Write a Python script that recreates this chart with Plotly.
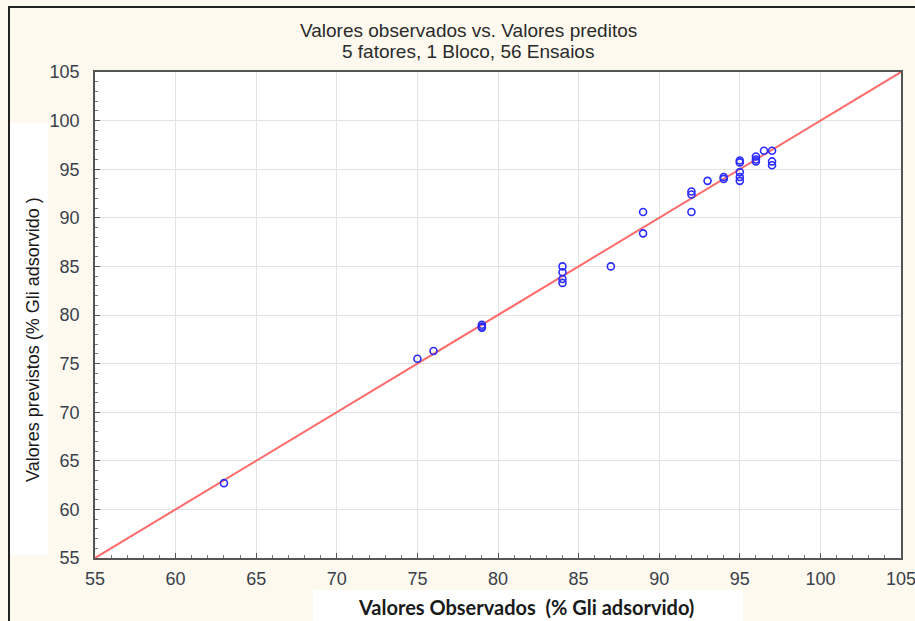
import plotly.graph_objects as go

observed = [63, 75, 76, 79, 79, 79, 84, 84, 84, 84, 87, 89, 89, 92, 92, 92, 93, 94, 94,
            95, 95, 95, 95, 95, 96, 96, 96, 96.5, 97, 97, 97]
predicted = [62.7, 75.5, 76.3, 78.8, 79.0, 78.7, 85.0, 84.4, 83.7, 83.3, 85.0, 90.6, 88.4,
             92.7, 92.4, 90.6, 93.8, 94.2, 94.0, 95.9, 95.7, 94.7, 94.2, 93.8, 96.3, 96.0,
             95.8, 96.9, 96.9, 95.8, 95.4]
ref_line = [55, 105]
tick_vals = [55, 60, 65, 70, 75, 80, 85, 90, 95, 100, 105]

title_lines = ["Valores observados vs. Valores preditos", "5 fatores, 1 Bloco, 56 Ensaios"]
x_title = "Valores Observados  (% Gli adsorvido)"
y_title = "Valores previstos (% Gli adsorvido )"

W, H = 915, 621
L, R, T, B = 95, 14, 72, 63
pw, ph = W - L - R, H - T - B


def px(x):
    return (x - L) / pw


def py(y):
    return (H - B - y) / ph


fig = go.Figure()
fig.add_trace(go.Scatter(x=ref_line, y=ref_line, mode="lines",
                         line=dict(color="#FF6B6B", width=2), hoverinfo="skip"))
fig.add_trace(go.Scatter(x=observed, y=predicted, mode="markers",
                         marker=dict(symbol="circle-open", color="#2B2BFF", size=7,
                                     line=dict(width=1.6, color="#2B2BFF"))))

axis_common = dict(range=[55, 105], tickvals=tick_vals, showgrid=True, gridcolor="#E3E3E3",
                   gridwidth=1, zeroline=False, showline=True, linecolor="#555555",
                   linewidth=1.5, mirror=True, ticks="inside", ticklen=5, tickcolor="#555555",
                   automargin=False, ticklabeloverflow="allow",
                   tickfont=dict(family="Liberation Sans, Arial", size=18, color="#3A3F4A"),
                   minor=dict(dtick=1, ticks="inside", ticklen=3, tickcolor="#777777",
                              showgrid=False))

fig.update_xaxes(**axis_common, ticklabelstandoff=4)
fig.update_yaxes(**axis_common, ticklabelstandoff=10)

shapes = [
    # white label boxes
    dict(type="rect", xref="paper", yref="paper", x0=px(10), x1=px(48), y0=py(555), y1=py(123),
         fillcolor="white", line=dict(width=0), layer="below"),
    dict(type="rect", xref="paper", yref="paper", x0=px(313), x1=px(743), y0=py(640), y1=py(590),
         fillcolor="white", line=dict(width=0), layer="below"),
    # outer frame
    dict(type="rect", xref="paper", yref="paper", x0=px(9), x1=px(1000), y0=py(700), y1=py(7),
         line=dict(color="#222222", width=2), fillcolor="rgba(0,0,0,0)", layer="above"),
]

title_font = dict(family="Liberation Sans, Arial", size=19, color="#2A2A2A")
annotations = [
    dict(text=title_lines[0], xref="paper", yref="paper", x=px(468), y=py(30),
         showarrow=False, xanchor="center", yanchor="middle", font=title_font),
    dict(text=title_lines[1], xref="paper", yref="paper", x=px(468), y=py(52),
         showarrow=False, xanchor="center", yanchor="middle", font=title_font),
    dict(text="<b>" + x_title + "</b>", xref="paper", yref="paper", x=px(526), y=py(607),
         showarrow=False, xanchor="center", yanchor="middle",
         font=dict(family="Lato, Open Sans", size=20, color="#1A1A1A")),
    dict(text=y_title, xref="paper", yref="paper", x=px(33), y=py(340), showarrow=False,
         textangle=-90, xanchor="center", yanchor="middle",
         font=dict(family="Liberation Sans, Arial", size=18, color="#1A1A1A")),
]

fig.update_layout(width=W, height=H, margin=dict(l=L, r=R, t=T, b=B),
                  paper_bgcolor="#FDF9EF", plot_bgcolor="white", showlegend=False,
                  shapes=shapes, annotations=annotations)

fig.write_html("out.html", config={"displayModeBar": False},
               post_script="document.body.style.margin='0';document.body.style.overflow='hidden';")
